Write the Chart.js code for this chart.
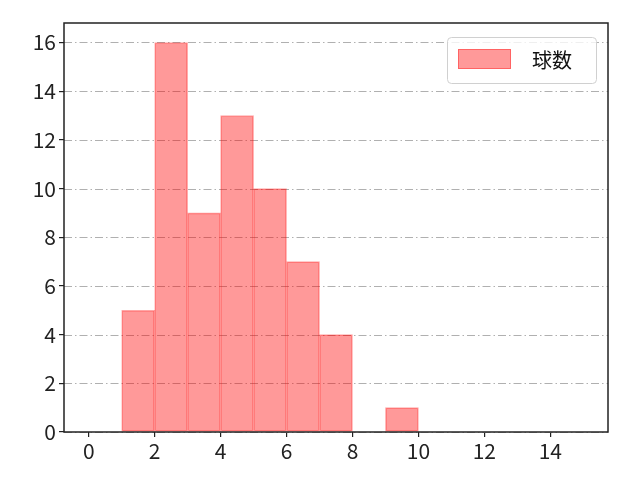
<!DOCTYPE html>
<html>
<head>
<meta charset="utf-8">
<script src="https://cdn.jsdelivr.net/npm/chart.js@4"></script>
<style>
  html, body { margin: 0; padding: 0; background: #fff; }
  #wrap { width: 640px; height: 480px; position: relative; }
</style>
</head>
<body>
<div id="wrap"><canvas id="chart" width="640" height="480"></canvas></div>
<script>
// histogram bins and counts
const binEdges = [1, 2, 3, 4, 5, 6, 7, 8, 9, 10];
const counts = [5, 16, 9, 13, 10, 7, 4, 0, 1];
const xTicks = [0, 2, 4, 6, 8, 10, 12, 14];
const yTicks = [0, 2, 4, 6, 8, 10, 12, 14, 16];
const seriesName = '球数';

const font = { family: "'Noto Sans CJK JP', sans-serif", size: 21 };

const bars = counts.map((c, i) => ({
  x: (binEdges[i] + binEdges[i + 1]) / 2,
  y: c > 0 ? c : null
}));

// gridlines, frame and legend drawn by hand
const extras = {
  id: 'extras',
  beforeDatasetsDraw(chart) {
    const { ctx, chartArea: a, scales } = chart;
    ctx.save();
    ctx.strokeStyle = '#b0b0b0';
    ctx.lineWidth = 1;
    ctx.setLineDash([8, 3, 1.5, 3]);
    yTicks.forEach(v => {
      const y = Math.round(scales.y.getPixelForValue(v)) + 0.5;
      ctx.beginPath();
      ctx.moveTo(a.left, y);
      ctx.lineTo(a.right, y);
      ctx.stroke();
    });
    ctx.restore();
  },
  afterDraw(chart) {
    const { ctx, chartArea: a } = chart;
    ctx.save();
    ctx.strokeStyle = '#222';
    ctx.lineWidth = 1.5;
    ctx.strokeRect(a.left, a.top, a.right - a.left, a.bottom - a.top);

    // legend
    const lx = 447, ly = 37, lw = 149, lh = 46;
    ctx.fillStyle = 'rgba(255,255,255,0.8)';
    ctx.strokeStyle = '#d0d0d0';
    ctx.lineWidth = 1;
    ctx.beginPath();
    ctx.roundRect(lx + 0.5, ly + 0.5, lw, lh, 4);
    ctx.fill();
    ctx.stroke();
    ctx.fillStyle = 'rgba(255,0,0,0.4)';
    ctx.fillRect(458, 49, 53, 20);
    ctx.strokeStyle = 'rgba(255,0,0,0.35)';
    ctx.strokeRect(458.5, 49.5, 52, 19);
    ctx.fillStyle = '#111';
    ctx.font = "20px 'Noto Sans CJK JP', sans-serif";
    ctx.textBaseline = 'middle';
    ctx.fillText(seriesName, 532, 60);
    ctx.restore();
  }
};

new Chart(document.getElementById('chart'), {
  type: 'bar',
  data: {
    datasets: [{
      label: seriesName,
      data: bars,
      backgroundColor: 'rgba(255,0,0,0.4)',
      borderColor: 'rgba(255,0,0,0.35)',
      borderWidth: 1,
      borderSkipped: false,
      barPercentage: 1,
      categoryPercentage: 1
    }]
  },
  plugins: [extras],
  options: {
    responsive: false,
    animation: false,
    layout: { padding: { left: 0, right: 32, top: 23, bottom: 0 } },
    plugins: { legend: { display: false }, tooltip: { enabled: false } },
    scales: {
      x: {
        type: 'linear',
        offset: false,
        min: -0.75,
        max: 15.75,
        afterBuildTicks: s => { s.ticks = xTicks.map(v => ({ value: v })); },
        afterFit: s => { s.height = 48; },
        grid: { offset: false, drawOnChartArea: false, color: '#222', tickLength: 5, lineWidth: 1.2 },
        border: { display: false },
        ticks: { color: '#222', font, padding: 1, maxRotation: 0 }
      },
      y: {
        min: 0,
        max: 16.8,
        afterBuildTicks: s => { s.ticks = yTicks.map(v => ({ value: v })); },
        afterFit: s => { s.width = 64; },
        grid: { drawOnChartArea: false, color: '#222', tickLength: 5, lineWidth: 1.2 },
        border: { display: false },
        ticks: { color: '#222', font, padding: 3 }
      }
    }
  }
});
</script>
</body>
</html>
